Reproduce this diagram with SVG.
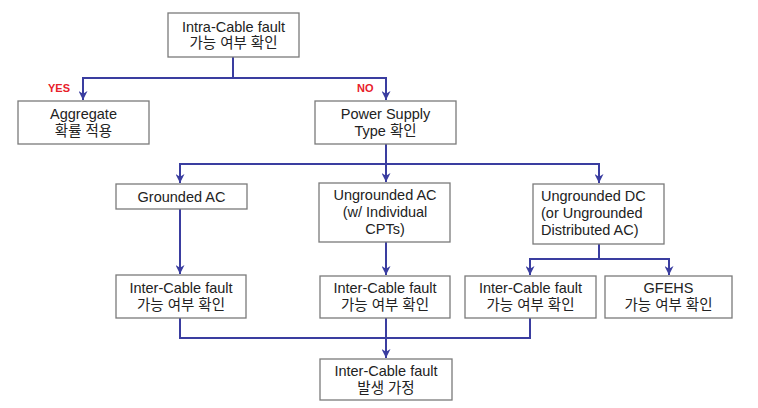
<svg xmlns="http://www.w3.org/2000/svg" width="758" height="408" viewBox="0 0 758 408">
<style>
.box{fill:#fff;stroke:#7a7a7a;stroke-width:1.3}
.t{font-family:"Liberation Sans","Noto Sans CJK KR",Arial,sans-serif;font-size:14.5px;fill:#222;text-anchor:middle}
.l{text-anchor:start}
.c{fill:none;stroke:#3a3da0;stroke-width:2}
.lab{font-family:"Liberation Sans",Arial,sans-serif;font-size:11px;font-weight:bold;fill:#e8202a}
</style>
<defs>
<marker id="ah" viewBox="0 0 10 10" refX="10" refY="5" markerWidth="9" markerHeight="9" markerUnits="userSpaceOnUse" orient="auto">
<path d="M0,0 L10,5 L0,10 L3,5 z" fill="#3a3da0"/>
</marker>
</defs>
<rect width="758" height="408" fill="#fff"/>
<g id="connectors">
<path class="c" d="M233,57 V78 H83 V100" marker-end="url(#ah)"/>
<path class="c" d="M233,78 H386 V100" marker-end="url(#ah)"/>
<path class="c" d="M386,144 V164 H180 V183" marker-end="url(#ah)"/>
<path class="c" d="M386,164 V182" marker-end="url(#ah)"/>
<path class="c" d="M386,164 H599 V183" marker-end="url(#ah)"/>
<path class="c" d="M180,209 V274" marker-end="url(#ah)"/>
<path class="c" d="M386,242 V275" marker-end="url(#ah)"/>
<path class="c" d="M599,244 V259 H530 V275" marker-end="url(#ah)"/>
<path class="c" d="M599,259 H669 V275" marker-end="url(#ah)"/>
<path class="c" d="M180,318 V338 H530 V318"/>
<path class="c" d="M386,318 V358" marker-end="url(#ah)"/>
<text class="lab" x="48" y="92">YES</text>
<text class="lab" x="357" y="92">NO</text>
</g>
<g id="n_intra">
<rect class="box" x="168" y="13" width="131" height="44"/>
<text class="t" x="233.5" y="32">Intra-Cable fault</text>
<text class="t" x="233.5" y="48">가능 여부 확인</text>
</g>
<g id="n_aggregate">
<rect class="box" x="18" y="101" width="131" height="43"/>
<text class="t" x="83.5" y="119">Aggregate</text>
<text class="t" x="83.5" y="136">확률 적용</text>
</g>
<g id="n_power">
<rect class="box" x="315" y="101" width="141" height="43"/>
<text class="t" x="385.5" y="119">Power Supply</text>
<text class="t" x="385.5" y="136">Type 확인</text>
</g>
<g id="n_grounded">
<rect class="box" x="116" y="184" width="131" height="25"/>
<text class="t" x="181.5" y="202">Grounded AC</text>
</g>
<g id="n_ungac">
<rect class="box" x="319" y="183" width="131" height="59"/>
<text class="t" x="385" y="200">Ungrounded AC</text>
<text class="t" x="385" y="217">(w/ Individual</text>
<text class="t" x="385" y="234">CPTs)</text>
</g>
<g id="n_ungdc">
<rect class="box" x="533" y="184" width="131" height="60"/>
<text class="t l" x="541" y="201">Ungrounded DC</text>
<text class="t l" x="541" y="218">(or Ungrounded</text>
<text class="t l" x="541" y="235">Distributed AC)</text>
</g>
<g id="n_inter1">
<rect class="box" x="116" y="275" width="130" height="43"/>
<text class="t" x="181" y="293">Inter-Cable fault</text>
<text class="t" x="181" y="310">가능 여부 확인</text>
</g>
<g id="n_inter2">
<rect class="box" x="320" y="276" width="130" height="42"/>
<text class="t" x="385" y="293">Inter-Cable fault</text>
<text class="t" x="385" y="310">가능 여부 확인</text>
</g>
<g id="n_inter3">
<rect class="box" x="465" y="276" width="131" height="42"/>
<text class="t" x="530.5" y="293">Inter-Cable fault</text>
<text class="t" x="530.5" y="310">가능 여부 확인</text>
</g>
<g id="n_gfehs">
<rect class="box" x="605" y="276" width="127" height="42"/>
<text class="t" x="668.5" y="293">GFEHS</text>
<text class="t" x="668.5" y="310">가능 여부 확인</text>
</g>
<g id="n_assume">
<rect class="box" x="320" y="359" width="132" height="41"/>
<text class="t" x="386" y="376">Inter-Cable fault</text>
<text class="t" x="386" y="393">발생 가정</text>
</g>
</svg>
